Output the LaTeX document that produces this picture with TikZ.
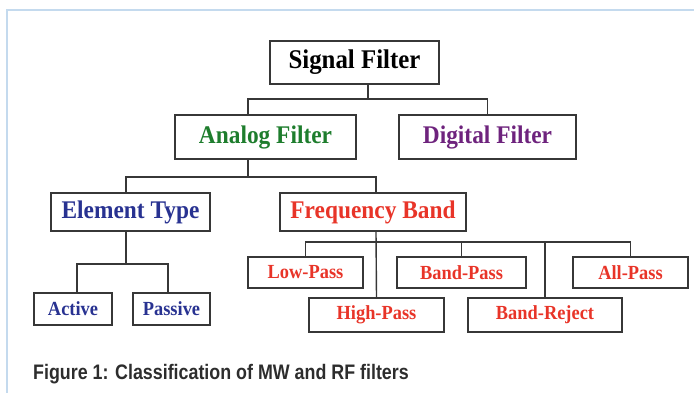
\documentclass[tikz,border=0pt]{standalone}
\usepackage{fontspec}
\setmainfont[FakeStretch=0.92]{Liberation Serif}
\newfontfamily\capfont[FakeStretch=0.85]{Liberation Sans}
\definecolor{framecol}{RGB}{196,218,238}
\definecolor{boxcol}{RGB}{55,55,55}
\definecolor{anagreen}{RGB}{30,125,45}
\definecolor{digpurple}{RGB}{110,35,125}
\definecolor{elemblue}{RGB}{40,50,145}
\definecolor{freqred}{RGB}{232,52,40}
\definecolor{capgray}{RGB}{45,45,45}

\begin{document}
\begin{tikzpicture}[x=1pt,y=-1pt]

    % Styles
    \tikzstyle{box} = [rectangle, draw=boxcol, line width=1.4pt, inner sep=0pt, text centered, font=\bfseries]
    \tikzstyle{line} = [draw=boxcol, line width=1.4pt]
    \tikzset{top/.style={box, font=\fontsize{27}{30}\selectfont\bfseries}}
    \tikzset{mid/.style={box, font=\fontsize{25.4}{28}\selectfont\bfseries}}
    \tikzset{leaf/.style={box, font=\fontsize{20}{23}\selectfont\bfseries}}

    \useasboundingbox (0,0) rectangle (694,393);
    \draw [framecol, line width=2pt] (7,393) -- (7,10) -- (694,10);

    % Nodes
    \node (sig) [top, minimum width=169pt, minimum height=43pt] at (354.5,62.5) {Signal Filter};
    \node (ana) [mid, text=anagreen, minimum width=181pt, minimum height=44pt] at (265.5,137) {Analog Filter};
    \node (dig) [mid, text=digpurple, minimum width=177pt, minimum height=44pt] at (487.5,137) {Digital Filter};
    \node (elem) [mid, text=elemblue, minimum width=159pt, minimum height=38pt] at (130.5,212) {Element Type};
    \node (freq) [mid, text=freqred, minimum width=186pt, minimum height=38pt] at (373,212) {Frequency Band};
    \node (act) [leaf, text=elemblue, minimum width=78pt, minimum height=32pt] at (73,309) {Active};
    \node (pas) [leaf, text=elemblue, minimum width=77pt, minimum height=32pt] at (171.5,309) {Passive};
    \node (low) [leaf, text=freqred, minimum width=115pt, minimum height=31pt] at (305.5,272.5) {Low-Pass};
    \node (bp) [leaf, text=freqred, minimum width=129pt, minimum height=31pt] at (461.5,272.5) {Band-Pass};
    \node (all) [leaf, text=freqred, minimum width=115pt, minimum height=31pt] at (630.5,272.5) {All-Pass};
    \node (high) [leaf, text=freqred, minimum width=135pt, minimum height=34pt] at (376.5,315) {High-Pass};
    \node (rej) [leaf, text=freqred, minimum width=154pt, minimum height=34pt] at (545,315) {Band-Reject};

    \node (cap) [anchor=base west, inner sep=0pt, text=capgray, font=\capfont\fontsize{21}{24}\selectfont\bfseries] at (33,379) {Figure 1: Classification of MW and RF filters};

    % Branch points
    \coordinate (b1) at (368,99);
    \coordinate (b2) at (248,177);
    \coordinate (b3) at (126,264);
    \coordinate (b4) at (376,242);

    % Lines
    \draw [line] ([xshift=13.5pt]sig.south) -- (b1);
    \draw [line] ([xshift=-17.5pt]ana.north) |- (b1) -| (dig.north);
    \draw [line] ([xshift=-17.5pt]ana.south) -- (b2);
    \draw [line] ([xshift=-4.5pt]elem.north) |- (b2) -| ([xshift=3pt]freq.north);
    \draw [line] ([xshift=-4.5pt]elem.south) -- (b3);
    \draw [line] ([xshift=4pt]act.north) |- (b3) -| ([xshift=-3.5pt]pas.north);
    \draw [line] ([xshift=3pt]freq.south) -- (high.north);
    \draw [line] (low.north) |- (b4) -| (all.north);
    \draw [line] (bp.north) -- (bp.north |- b4);
    \draw [line] (rej.north) -- (rej.north |- b4);
    \end{tikzpicture}
\end{document}
